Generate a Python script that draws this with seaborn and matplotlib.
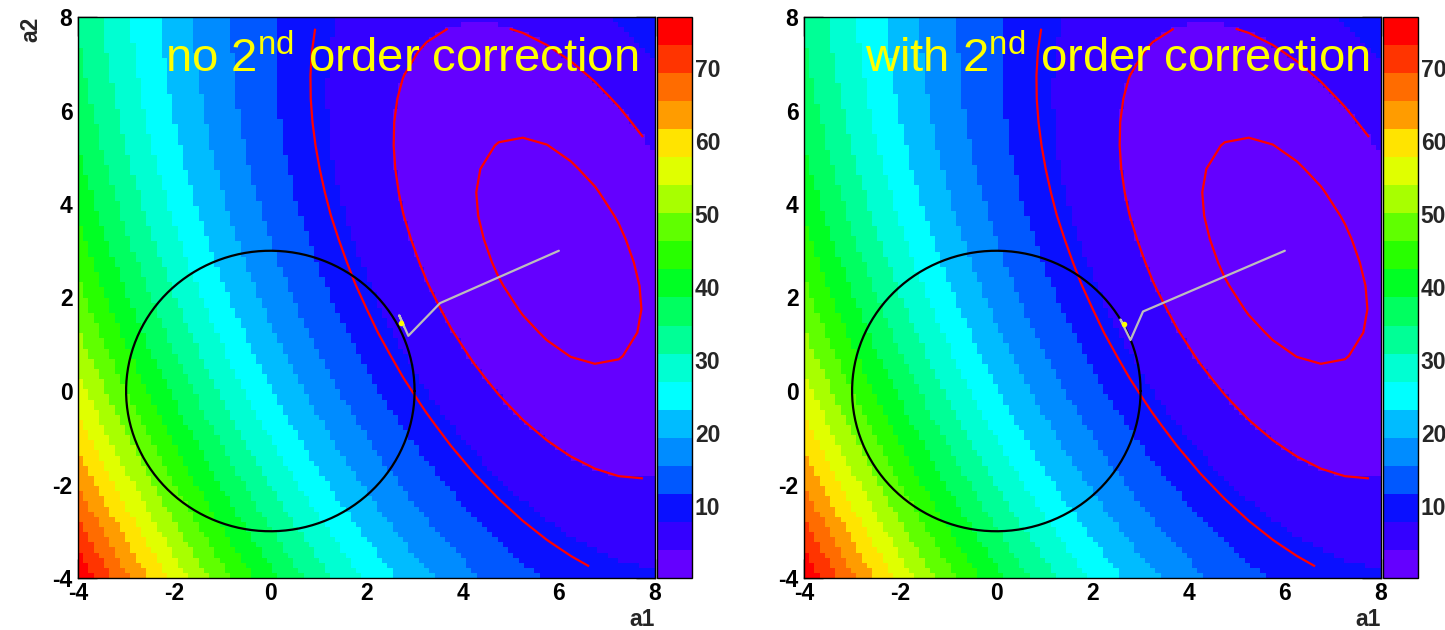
import numpy as np
import matplotlib
matplotlib.use("Agg")
import matplotlib.pyplot as plt
from matplotlib.colors import ListedColormap
import seaborn as sns

# ---------------- data ----------------
A1_RANGE = [-4.0, 8.0]
A2_RANGE = [-4.0, 8.0]
N_BINS = 110                      # fine histogram for the colour field
CONTOUR_BINS = 24                 # coarse histogram used for the red contours
MIN_POINT = [6.0, 3.0]            # minimum of the chi2 surface
QUAD_COEF = [0.444, 0.309, 0.222] # coefficients of da1^2, da1*da2, da2^2
Z_MIN, Z_MAX = 0.15, 77.0
BAND_COLORS = ["#6400ff", "#3400ff", "#0a10ff", "#0058ff", "#008cff",
               "#00bcff", "#00ffff", "#00ffd2", "#00ff96", "#00ff60",
               "#00ff24", "#28ff00", "#60ff00", "#a8ff00", "#e0ff00",
               "#ffe400", "#ff9c00", "#ff6c00", "#ff3400", "#ff0000"]
CONTOUR_LEVELS = [1, 4, 9]
CIRCLE_RADIUS = 3.0
PATH_LEFT_A1 = [6.0, 3.53, 2.87, 2.68, 2.78]
PATH_LEFT_A2 = [3.0, 1.88, 1.18, 1.62, 1.38]
PATH_RIGHT_A1 = [6.0, 3.05, 2.79, 2.58, 2.67]
PATH_RIGHT_A2 = [3.0, 1.70, 1.09, 1.53, 1.38]
END_LEFT = [2.71, 1.45]
END_RIGHT = [2.66, 1.43]
TITLES = [r"no 2$^{\rm nd}$ order correction", r"with 2$^{\rm nd}$ order correction"]
TITLE_RIGHT_A1 = [7.65, 7.77]
TITLE_BASE_A2 = 6.82
AXIS_TICKS = [-4, -2, 0, 2, 4, 6, 8]
CBAR_TICKS = [10, 20, 30, 40, 50, 60, 70]

# ---------------- style ----------------
sns.set_style("ticks")
plt.rcParams["font.family"] = ["Liberation Sans", "DejaVu Sans"]
plt.rcParams["mathtext.fontset"] = "custom"
plt.rcParams["mathtext.rm"] = "Liberation Sans"
plt.rcParams["mathtext.it"] = "Liberation Sans:italic"
plt.rcParams["mathtext.bf"] = "Liberation Sans:bold"

W, H = 1445, 630
fig = plt.figure(figsize=(W / 100, H / 100), dpi=100)
fig.patch.set_facecolor("white")


def chi2(a1, a2):
    d1 = a1 - MIN_POINT[0]
    d2 = a2 - MIN_POINT[1]
    return QUAD_COEF[0] * d1 ** 2 + QUAD_COEF[1] * d1 * d2 + QUAD_COEF[2] * d2 ** 2


span1 = A1_RANGE[1] - A1_RANGE[0]
span2 = A2_RANGE[1] - A2_RANGE[0]
c1 = A1_RANGE[0] + (np.arange(N_BINS) + 0.5) * span1 / N_BINS
c2 = A2_RANGE[1] - (np.arange(N_BINS) + 0.5) * span2 / N_BINS   # top row first
G1, G2 = np.meshgrid(c1, c2)
Z = chi2(G1, G2)

k1 = A1_RANGE[0] + (np.arange(CONTOUR_BINS) + 0.5) * span1 / CONTOUR_BINS
k2 = A2_RANGE[0] + (np.arange(CONTOUR_BINS) + 0.5) * span2 / CONTOUR_BINS
K1, K2 = np.meshgrid(k1, k2)
ZK = chi2(K1, K2)


def fx(a1):
    return (np.asarray(a1) - A1_RANGE[0]) / span1 * N_BINS


def fy(a2):
    return (A2_RANGE[1] - np.asarray(a2)) / span2 * N_BINS


cmap = ListedColormap(BAND_COLORS)
TICKFONT = dict(fontsize=16.5, fontweight="bold")


def panel(x0, with_a2, title, title_x, path1, path2, endpt):
    ax = fig.add_axes([x0 / W, 1 - 578 / H, 577 / W, 561 / H])
    cax = fig.add_axes([(x0 + 579) / W, 1 - 578 / H, 35 / W, 561 / H])
    sns.heatmap(Z, ax=ax, cmap=cmap, vmin=Z_MIN, vmax=Z_MAX, cbar_ax=cax,
                xticklabels=False, yticklabels=False)
    # red chi2 contours
    ax.contour(fx(K1), fy(K2), ZK, levels=CONTOUR_LEVELS, colors="#ff0000",
               linewidths=1.6)
    # constraint circle
    th = np.linspace(0, 2 * np.pi, 400)
    ax.plot(fx(CIRCLE_RADIUS * np.cos(th)), fy(CIRCLE_RADIUS * np.sin(th)),
            color="black", lw=1.6)
    # minimiser path
    ax.plot(fx(path1), fy(path2), color="#bdbdbd", lw=1.6)
    ax.plot(fx([endpt[0]]), fy([endpt[1]]), "o", color="#ffff00", ms=4, mew=0)
    # title
    ax.text(fx(title_x), fy(TITLE_BASE_A2), title, color="#ffff00",
            fontsize=34, ha="right", va="baseline")
    # frame and ticks
    for s in ax.spines.values():
        s.set_visible(True)
        s.set_color("black")
        s.set_linewidth(1.0)
    ax.set_xlim(0, N_BINS)
    ax.set_ylim(N_BINS, 0)
    ax.set_xticks(fx(AXIS_TICKS))
    ax.set_xticklabels([str(t) for t in AXIS_TICKS], **TICKFONT)
    ax.set_yticks(fy(AXIS_TICKS))
    ax.set_yticklabels([str(t) for t in AXIS_TICKS], **TICKFONT)
    minor = np.arange(A1_RANGE[0], A1_RANGE[1] + 0.01, 0.5)
    ax.set_xticks(fx(minor), minor=True)
    ax.set_yticks(fy(minor), minor=True)
    ax.tick_params(which="major", direction="in", length=14, width=1,
                   top=True, right=True, pad=3, colors="black")
    ax.tick_params(which="minor", direction="in", length=7, width=1,
                   top=True, right=True)
    ax.tick_params(axis="y", pad=4)
    for lab in ax.get_xticklabels() + ax.get_yticklabels():
        lab.set_fontweight("bold")
    # colour bar
    cbar = ax.collections[0].colorbar
    cbar.set_ticks(CBAR_TICKS)
    cbar.outline.set_linewidth(1.0)
    cbar.outline.set_edgecolor("black")
    cax.tick_params(direction="in", length=14, width=1, pad=2, right=True,
                    left=False, labelsize=16.5)
    for lab in cax.get_yticklabels():
        lab.set_fontweight("bold")
    # axis titles
    fig.text((x0 + 577) / W, 1 - 620 / H, "a1", ha="right", va="center",
             **TICKFONT)
    if with_a2:
        fig.text(31 / W, 1 - 17 / H, "a2", rotation=90, ha="center", va="top",
                 **TICKFONT)
    return ax


panel(78, True, TITLES[0], TITLE_RIGHT_A1[0], PATH_LEFT_A1, PATH_LEFT_A2, END_LEFT)
panel(804, False, TITLES[1], TITLE_RIGHT_A1[1], PATH_RIGHT_A1, PATH_RIGHT_A2, END_RIGHT)

fig.savefig("out.png", dpi=100, facecolor="white")
